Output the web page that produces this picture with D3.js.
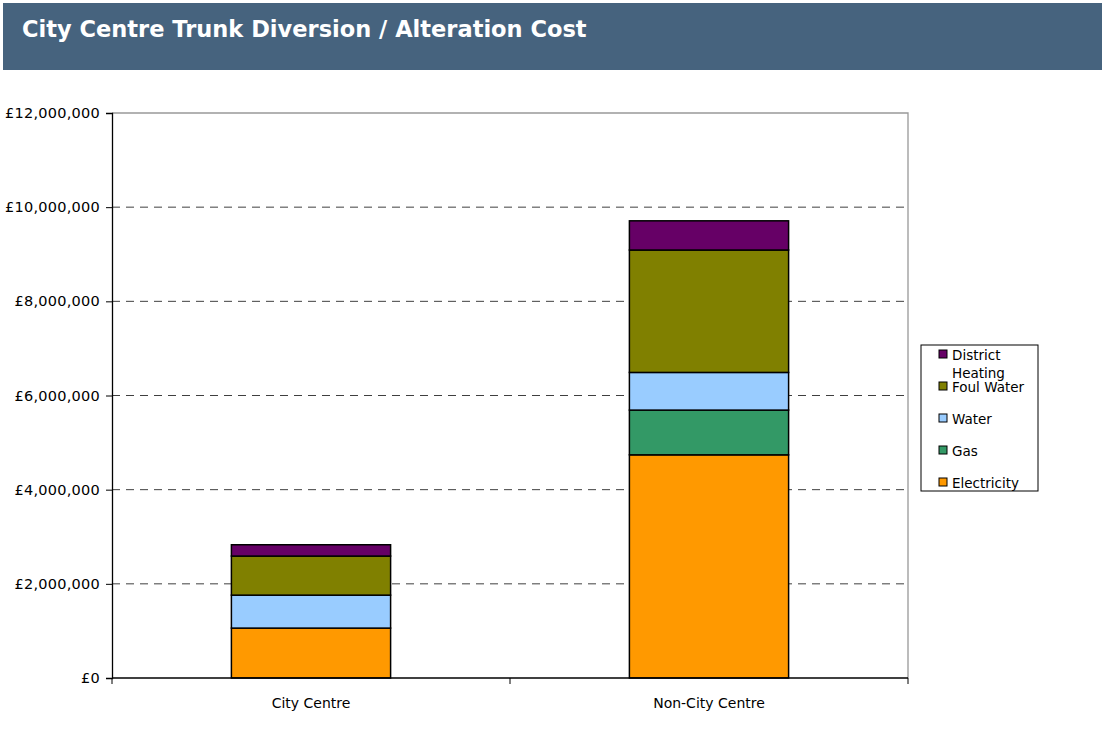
<!DOCTYPE html>
<html>
<head>
<meta charset="utf-8">
<script src="https://cdn.jsdelivr.net/npm/d3@7"></script>
<style>
  body { margin: 0; background: #fff; }
  svg { display: block; font-family: Tahoma, "DejaVu Sans", Verdana, sans-serif; }
</style>
</head>
<body>
<svg id="chart" width="1102" height="750"></svg>
<script>
const categories = ["City Centre", "Non-City Centre"];
const seriesNames = ["Electricity", "Gas", "Water", "Foul Water", "District Heating"];
const electricity = [1060000, 4740000];
const gas = [0, 950000];
const water = [700000, 800000];
const foulWater = [830000, 2600000];
const districtHeating = [240000, 620000];
const yTicks = [0, 2000000, 4000000, 6000000, 8000000, 10000000, 12000000];
const colors = ["#FF9900", "#339966", "#99CCFF", "#808000", "#660066"];

(function () {
const svg = d3.select("#chart");
const plotL = 112, plotR = 908, plotT = 113, plotB = 678;

// header bar
svg.append("rect").attr("x", 3).attr("y", 3).attr("width", 1099).attr("height", 67).attr("fill", "#46637e");
const title = svg.append("text").attr("x", 22).attr("y", 37).attr("fill", "#fff")
  .attr("font-weight", "bold").attr("font-size", 20).text("City Centre Trunk Diversion / Alteration Cost");
const tw = title.node().getComputedTextLength();
title.attr("font-size", 20 * 565 / tw);

const table = categories.map((c, i) => ({
  cat: c, "Electricity": electricity[i], "Gas": gas[i], "Water": water[i],
  "Foul Water": foulWater[i], "District Heating": districtHeating[i]
}));
const stacked = d3.stack().keys(seriesNames)(table);

const x = d3.scaleBand().domain(categories).range([plotL, plotR]).paddingInner(0.6).paddingOuter(0.3);
const y = d3.scaleLinear().domain([0, 12000000]).range([plotB, plotT]);
const color = d3.scaleOrdinal().domain(seriesNames).range(colors);

// plot frame (top/right grey)
svg.append("path").attr("d", `M${plotL},${plotT}H${plotR}V${plotB}`).attr("fill", "none").attr("stroke", "#999").attr("stroke-width", 1.3);

// grid lines
svg.append("g").selectAll("line").data(yTicks.filter(d => d > 0 && d < 12000000)).join("line")
  .attr("x1", plotL).attr("x2", plotR).attr("y1", d => y(d)).attr("y2", d => y(d))
  .attr("stroke", "#000").attr("stroke-width", 1).attr("stroke-dasharray", "8 6").attr("opacity", 0.75);

// bars
svg.append("g").selectAll("g").data(stacked).join("g").attr("fill", d => color(d.key))
  .selectAll("rect").data(d => d.filter(p => p[1] - p[0] > 0)).join("rect")
  .attr("x", d => x(d.data.cat)).attr("width", x.bandwidth())
  .attr("y", d => y(d[1])).attr("height", d => y(d[0]) - y(d[1]))
  .attr("stroke", "#000").attr("stroke-width", 1.5);

// y axis
const yAxis = svg.append("g").attr("transform", `translate(${plotL},0)`)
  .call(d3.axisLeft(y).tickValues(yTicks).tickSize(6).tickPadding(6)
    .tickFormat(d => "£" + d3.format(",")(d)));
yAxis.attr("font-family", null).attr("font-size", null);
yAxis.select(".domain").attr("stroke", "#000").attr("stroke-width", 1.3);
yAxis.selectAll("line").attr("stroke", "#000");
yAxis.selectAll("text").attr("font-size", 14.5).attr("fill", "#000").attr("letter-spacing", 0.25);

// x axis
const xAxis = svg.append("g").attr("transform", `translate(0,${plotB})`);
xAxis.append("line").attr("x1", plotL).attr("x2", plotR).attr("stroke", "#000").attr("stroke-width", 1.3);
xAxis.selectAll(".tk").data([plotL, (plotL + plotR) / 2, plotR]).join("line").attr("class", "tk")
  .attr("x1", d => d).attr("x2", d => d).attr("y1", 0).attr("y2", 6).attr("stroke", "#000");
xAxis.selectAll("text").data(categories).join("text")
  .attr("x", d => x(d) + x.bandwidth() / 2).attr("y", 30).attr("text-anchor", "middle")
  .attr("font-size", 14).text(d => d);

// legend
const lg = svg.append("g");
lg.append("rect").attr("x", 921).attr("y", 345).attr("width", 117).attr("height", 146)
  .attr("fill", "#fff").attr("stroke", "#000").attr("stroke-width", 1);
const legendItems = seriesNames.slice().reverse();
const ly = [355, 387, 419, 451, 483];
legendItems.forEach((name, i) => {
  lg.append("rect").attr("x", 939).attr("y", ly[i] - 5).attr("width", 8).attr("height", 8)
    .attr("fill", color(name)).attr("stroke", "#000").attr("stroke-width", 1);
  const t = lg.append("text").attr("x", 952).attr("y", ly[i] + 5).attr("font-size", 13.5);
  if (name === "District Heating") {
    t.text("District");
    lg.append("text").attr("x", 952).attr("y", ly[i] + 23).attr("font-size", 13.5).text("Heating");
  } else {
    t.text(name);
  }
});
})();
</script>
</body>
</html>
